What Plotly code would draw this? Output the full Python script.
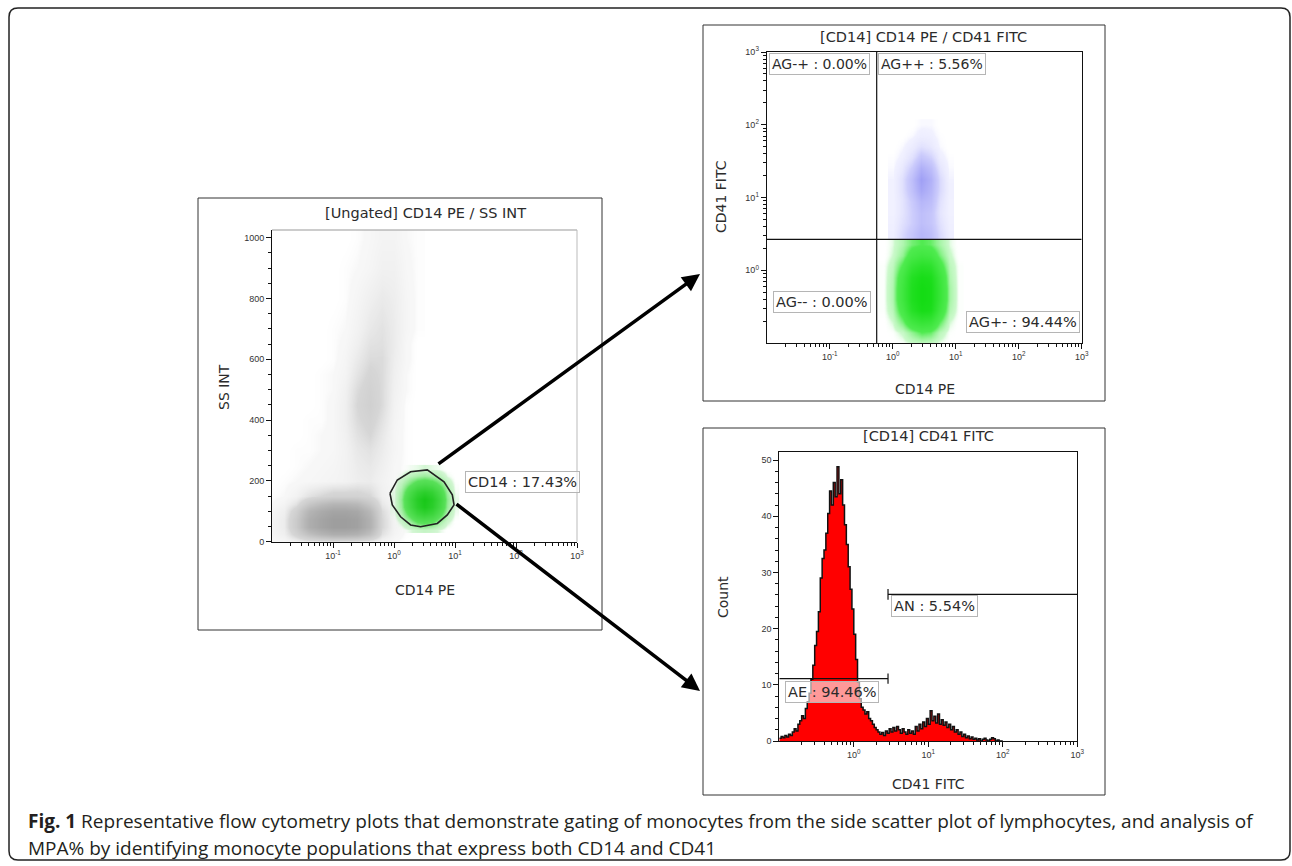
import numpy as np
import plotly.graph_objects as go

W, H = 1292, 866

# ---------------- Panel A: [Ungated] CD14 PE / SS INT ----------------
A_GRAY_LOGX = [-2.0, -1.8, -1.6, -1.4, -1.2, -1.0, -0.8, -0.6, -0.4, -0.2, 0.0, 0.2, 0.4]
A_GRAY_SS = [0, 25, 50, 75, 100, 125, 150, 200, 250, 300, 350, 400, 450, 500, 550,
             600, 650, 700, 800, 900, 1000]
A_GRAY_DENSITY = [
    [0.2, 0.3, 0.6, 0.9, 1.2, 1.3, 1.3, 1.2, 0.8, 0.4, 0.2, 0.0, 0.0],
    [0.4, 0.8, 2.5, 5.0, 6.5, 7.5, 7.5, 7.0, 5.0, 1.5, 0.5, 0.1, 0.0],
    [0.5, 1.0, 3.5, 7.5, 9.0, 10., 10., 9.5, 7.0, 2.0, 0.6, 0.2, 0.0],
    [0.5, 1.0, 3.5, 7.5, 9.0, 10., 10., 9.5, 7.0, 2.0, 0.6, 0.2, 0.0],
    [0.4, 0.8, 2.8, 6.5, 8.0, 9.0, 9.0, 8.5, 6.0, 1.8, 0.5, 0.2, 0.0],
    [0.2, 0.5, 1.5, 4.0, 5.5, 6.5, 6.5, 6.0, 4.0, 1.2, 0.4, 0.1, 0.0],
    [0.1, 0.2, 0.6, 1.5, 2.0, 2.5, 2.5, 2.5, 2.0, 0.8, 0.3, 0.1, 0.0],
    [0.0, 0.1, 0.2, 0.3, 0.4, 0.5, 0.6, 0.9, 1.0, 0.6, 0.3, 0.1, 0.0],
    [0.0, 0.0, 0.1, 0.2, 0.3, 0.4, 0.6, 1.0, 1.2, 0.8, 0.3, 0.1, 0.0],
    [0.0, 0.0, 0.1, 0.1, 0.2, 0.3, 0.6, 1.2, 1.5, 1.0, 0.4, 0.1, 0.0],
    [0.0, 0.0, 0.0, 0.1, 0.2, 0.3, 0.7, 1.5, 2.0, 1.2, 0.4, 0.1, 0.0],
    [0.0, 0.0, 0.0, 0.1, 0.1, 0.3, 0.8, 1.8, 2.4, 1.5, 0.5, 0.1, 0.0],
    [0.0, 0.0, 0.0, 0.0, 0.1, 0.3, 0.8, 2.0, 2.8, 1.8, 0.6, 0.1, 0.0],
    [0.0, 0.0, 0.0, 0.0, 0.1, 0.2, 0.7, 1.8, 2.6, 1.8, 0.7, 0.2, 0.0],
    [0.0, 0.0, 0.0, 0.0, 0.1, 0.2, 0.5, 1.4, 2.2, 1.8, 0.8, 0.2, 0.0],
    [0.0, 0.0, 0.0, 0.0, 0.0, 0.1, 0.4, 1.1, 1.8, 1.8, 0.9, 0.3, 0.0],
    [0.0, 0.0, 0.0, 0.0, 0.0, 0.1, 0.3, 0.8, 1.5, 1.6, 1.0, 0.3, 0.0],
    [0.0, 0.0, 0.0, 0.0, 0.0, 0.1, 0.2, 0.6, 1.2, 1.5, 1.0, 0.4, 0.1],
    [0.0, 0.0, 0.0, 0.0, 0.0, 0.0, 0.1, 0.4, 0.8, 1.1, 0.9, 0.4, 0.1],
    [0.0, 0.0, 0.0, 0.0, 0.0, 0.0, 0.1, 0.2, 0.4, 0.7, 0.7, 0.3, 0.1],
    [0.0, 0.0, 0.0, 0.0, 0.0, 0.0, 0.0, 0.1, 0.3, 0.5, 0.5, 0.2, 0.1],
]
A_GREEN_LOGX = [0.0, 0.125, 0.25, 0.375, 0.5, 0.625, 0.75, 0.875, 1.0]
A_GREEN_SS = [40, 65, 90, 115, 140, 165, 190, 215, 240]
A_GREEN_DENSITY = [
    [0.0, 0.0, 0.3, 0.6, 0.8, 0.6, 0.3, 0.0, 0.0],
    [0.0, 0.5, 1.5, 3.0, 3.5, 3.0, 1.5, 0.5, 0.0],
    [0.2, 1.2, 3.5, 6.0, 7.0, 6.0, 3.5, 1.2, 0.2],
    [0.3, 1.8, 5.0, 8.0, 9.5, 8.0, 5.0, 1.8, 0.3],
    [0.3, 2.0, 5.5, 8.5, 10., 8.5, 5.5, 2.0, 0.3],
    [0.3, 1.6, 4.5, 7.0, 8.0, 7.0, 4.5, 1.6, 0.2],
    [0.1, 1.0, 2.5, 4.0, 4.5, 4.0, 2.5, 1.0, 0.1],
    [0.0, 0.3, 1.0, 1.5, 1.8, 1.5, 1.0, 0.3, 0.0],
    [0.0, 0.0, 0.2, 0.3, 0.4, 0.3, 0.2, 0.0, 0.0],
]
A_GATE_LOGX = [-0.066, 0.054, 0.272, 0.546, 0.820, 0.956, 0.984, 0.874, 0.710, 0.436, 0.272, 0.108, -0.028, -0.066]
A_GATE_SS = [159, 203, 230, 236, 197, 154, 121, 88, 60, 49, 55, 82, 121, 159]
A_GATE_LABEL = "CD14 : 17.43%"

# ---------------- Panel B: [CD14] CD14 PE / CD41 FITC ----------------
B_GREEN_LOGX = [-0.15, 0.0, 0.15, 0.3, 0.45, 0.6, 0.75, 0.9, 1.05]
B_GREEN_LOGY = [-1.0, -0.85, -0.7, -0.55, -0.4, -0.25, -0.1, 0.05, 0.2, 0.35]
B_GREEN_DENSITY = [
    [0.0, 0.0, 0.1, 0.4, 0.6, 0.5, 0.2, 0.0, 0.0],
    [0.0, 0.1, 0.5, 1.5, 2.5, 2.2, 0.8, 0.1, 0.0],
    [0.0, 0.4, 2.0, 4.5, 6.0, 5.5, 2.5, 0.4, 0.0],
    [0.1, 0.8, 3.5, 7.5, 9.5, 9.0, 4.5, 0.9, 0.1],
    [0.1, 1.0, 4.5, 8.5, 10., 9.5, 5.5, 1.2, 0.1],
    [0.1, 1.0, 4.5, 8.5, 10., 9.5, 5.5, 1.2, 0.1],
    [0.1, 0.9, 4.0, 8.0, 9.5, 9.0, 5.0, 1.0, 0.1],
    [0.1, 0.7, 2.8, 6.0, 7.5, 7.0, 3.5, 0.8, 0.1],
    [0.0, 0.4, 1.5, 3.5, 4.5, 4.0, 2.0, 0.5, 0.0],
    [0.0, 0.3, 1.0, 2.0, 2.5, 2.2, 1.2, 0.3, 0.0],
]
B_BLUE_LOGX = [0.0, 0.15, 0.3, 0.45, 0.6, 0.75, 0.9]
B_BLUE_LOGY = [0.5, 0.65, 0.8, 0.95, 1.1, 1.25, 1.4, 1.55, 1.7, 1.85, 2.0]
B_BLUE_DENSITY = [
    [0.5, 1.5, 2.5, 3.5, 3.0, 1.5, 0.5],
    [0.4, 1.2, 2.0, 3.0, 2.5, 1.2, 0.4],
    [0.3, 1.0, 2.0, 3.0, 2.5, 1.0, 0.3],
    [0.3, 1.0, 2.2, 3.5, 3.0, 1.2, 0.3],
    [0.3, 1.2, 2.8, 4.5, 3.5, 1.5, 0.4],
    [0.3, 1.2, 3.0, 5.0, 3.8, 1.5, 0.3],
    [0.2, 0.8, 2.2, 4.0, 3.0, 1.0, 0.2],
    [0.1, 0.4, 1.2, 2.5, 1.8, 0.5, 0.1],
    [0.0, 0.2, 0.6, 1.2, 0.8, 0.2, 0.0],
    [0.0, 0.0, 0.2, 0.5, 0.4, 0.1, 0.0],
    [0.0, 0.0, 0.0, 0.2, 0.2, 0.0, 0.0],
]
B_QUAD_CD14 = 0.557     # vertical quadrant divider (CD14 PE value)
B_QUAD_CD41 = 2.66      # horizontal quadrant divider (CD41 FITC value)
B_QUAD_LABELS = ["AG-+ : 0.00%", "AG++ : 5.56%", "AG-- : 0.00%", "AG+- : 94.44%"]

# ---------------- Panel C: [CD14] CD41 FITC histogram ----------------
C_BIN_START_LOG = -1.0
C_BIN_WIDTH_LOG = 0.025
C_COUNTS = [
    0.5, 0.8, 0.6, 1.0, 0.7, 1.2, 1.0, 1.6, 2.2, 1.8,
    3.0, 3.6, 4.5, 4.0, 5.8, 7.0, 8.5, 11.0, 13.5, 17.0,
    19.5, 23.0, 29.0, 32.5, 34.0, 37.0, 40.5, 44.5, 42.0, 46.0,
    43.5, 48.8, 44.0, 46.5, 42.0, 38.5, 35.0, 31.0, 27.0, 23.5,
    19.0, 14.5, 10.5, 7.5, 6.0, 5.5, 4.8, 5.2, 4.0, 3.6,
    3.0, 2.4, 2.0, 1.6, 1.2, 1.5, 1.0, 1.8, 1.4, 2.2,
    1.6, 2.4, 1.8, 2.6, 2.0, 1.4, 2.2, 1.6, 1.2, 2.0,
    1.4, 1.8, 1.2, 2.6, 1.8, 3.0, 2.2, 3.4, 2.6, 4.0,
    3.0, 5.4, 3.6, 4.4, 3.2, 4.8, 3.0, 3.8, 2.8, 3.4,
    2.4, 3.0, 2.0, 2.6, 1.6, 2.0, 1.2, 1.6, 0.8, 1.2,
    0.6, 0.9, 0.4, 0.7, 0.3, 0.5, 0.2, 0.4, 0.0, 0.3,
    0.5, 0.2, 0.0, 0.3, 0.6, 0.4, 0.0, 0.2, 0.0, 0.0,
]
C_GATE_SPLIT = 2.88     # CD41 FITC value where AE ends / AN begins
C_AE_LEVEL = 11.1
C_AN_LEVEL = 26.1
C_AE_LABEL = "AE : 94.46%"
C_AN_LABEL = "AN : 5.54%"

CAPTION_1 = ("<b>Fig. 1</b> Representative flow cytometry plots that demonstrate gating of monocytes "
             "from the side scatter plot of lymphocytes, and analysis of")
CAPTION_2 = "MPA% by identifying monocyte populations that express both CD14 and CD41"


# ---------------- helpers ----------------
def px(x):
    return x / W


def py(y):
    return 1 - y / H


SUP = {-2: "10<sup>-2</sup>", -1: "10<sup>-1</sup>", 0: "10<sup>0</sup>", 1: "10<sup>1</sup>",
       2: "10<sup>2</sup>", 3: "10<sup>3</sup>"}


def log_minor(lo, hi):
    return [d + np.log10(k) for d in range(lo, hi) for k in range(2, 10)]


TICKFONT = dict(family="Liberation Sans", size=9, color="#333")
TXT = "#2b2b2b"
FONT = "DejaVu Sans"

fig = go.Figure()

# Panel A traces
fig.add_trace(go.Heatmap(
    x=A_GRAY_LOGX, y=A_GRAY_SS, z=A_GRAY_DENSITY, zsmooth="best", zmin=0, zmax=10,
    colorscale=[[0, "rgba(255,255,255,0)"], [0.02, "rgba(240,240,240,0.5)"],
                [0.2, "rgb(214,214,214)"], [0.6, "rgb(184,184,184)"], [1, "rgb(158,158,158)"]],
    showscale=False, hoverinfo="skip", xaxis="x", yaxis="y"))
fig.add_trace(go.Heatmap(
    x=A_GREEN_LOGX, y=A_GREEN_SS, z=A_GREEN_DENSITY, zsmooth="best", zmin=0, zmax=10,
    colorscale=[[0, "rgba(255,255,255,0)"], [0.04, "rgba(180,240,180,0.6)"],
                [0.3, "rgb(90,225,90)"], [1, "rgb(25,200,25)"]],
    showscale=False, hoverinfo="skip", xaxis="x", yaxis="y"))
fig.add_trace(go.Scatter(
    x=A_GATE_LOGX, y=A_GATE_SS, mode="lines", line=dict(color="#222", width=1.6),
    hoverinfo="skip", showlegend=False, xaxis="x", yaxis="y"))

# Panel B traces
fig.add_trace(go.Heatmap(
    x=B_GREEN_LOGX, y=B_GREEN_LOGY, z=B_GREEN_DENSITY, zsmooth="best", zmin=0, zmax=10,
    colorscale=[[0, "rgba(255,255,255,0)"], [0.04, "rgba(170,245,170,0.6)"],
                [0.25, "rgb(80,235,80)"], [1, "rgb(20,220,20)"]],
    showscale=False, hoverinfo="skip", xaxis="x2", yaxis="y2"))
fig.add_trace(go.Heatmap(
    x=B_BLUE_LOGX, y=B_BLUE_LOGY, z=B_BLUE_DENSITY, zsmooth="best", zmin=0, zmax=5,
    colorscale=[[0, "rgba(255,255,255,0)"], [0.06, "rgba(232,232,255,0.6)"],
                [0.4, "rgb(205,205,252)"], [1, "rgb(160,160,245)"]],
    showscale=False, hoverinfo="skip", xaxis="x2", yaxis="y2"))

# Panel C trace (histogram drawn as step area)
c_edges = [C_BIN_START_LOG + i * C_BIN_WIDTH_LOG for i in range(len(C_COUNTS) + 1)]
fig.add_trace(go.Scatter(
    x=c_edges, y=C_COUNTS + [0], mode="lines",
    line=dict(color="#111", width=1.5, shape="hv"),
    fill="tozeroy", fillcolor="#ff0000", hoverinfo="skip", showlegend=False,
    xaxis="x3", yaxis="y3"))


def axis(domain, rng, anchor, **kw):
    d = dict(domain=domain, range=rng, anchor=anchor, showline=True, linecolor="#111",
             linewidth=1, ticks="outside", ticklen=5, tickcolor="#111", tickwidth=1,
             showgrid=False, zeroline=False, tickfont=TICKFONT, fixedrange=True, automargin=False)
    d.update(kw)
    return d


fig.update_layout(
    width=W, height=H, margin=dict(l=0, r=0, t=0, b=0, pad=0, autoexpand=False),
    paper_bgcolor="white", plot_bgcolor="rgba(0,0,0,0)", showlegend=False,
    xaxis=axis([px(272), px(577)], [-2.0, 3.0], "y", mirror=False,
               tickmode="array", tickvals=[-1, 0, 1, 2, 3], ticktext=[SUP[k] for k in [-1, 0, 1, 2, 3]],
               minor=dict(tickmode="array", tickvals=log_minor(-2, 3), ticks="outside", ticklen=3,
                          tickcolor="#111", showgrid=False)),
    yaxis=axis([py(541.7), py(230)], [0, 1025], "x", mirror=False,
               tickmode="array", tickvals=[0, 200, 400, 600, 800, 1000],
               minor=dict(dtick=50, ticks="outside", ticklen=3, tickcolor="#111", showgrid=False)),
    xaxis2=axis([px(766.7), px(1081.7)], [-2.0, 3.0], "y2", mirror=True,
                tickmode="array", tickvals=[-1, 0, 1, 2, 3], ticktext=[SUP[k] for k in [-1, 0, 1, 2, 3]],
                minor=dict(tickmode="array", tickvals=log_minor(-2, 3), ticks="outside", ticklen=3,
                           tickcolor="#111", showgrid=False)),
    yaxis2=axis([py(343), py(52)], [-1.0, 3.0], "x2", mirror=True,
                tickmode="array", tickvals=[0, 1, 2, 3], ticktext=[SUP[k] for k in [0, 1, 2, 3]],
                minor=dict(tickmode="array", tickvals=log_minor(-1, 3), ticks="outside", ticklen=3,
                           tickcolor="#111", showgrid=False)),
    xaxis3=axis([px(779.3), px(1077.3)], [-1.0, 3.0], "y3", mirror=True,
                tickmode="array", tickvals=[0, 1, 2, 3], ticktext=[SUP[k] for k in [0, 1, 2, 3]],
                minor=dict(tickmode="array", tickvals=log_minor(-1, 3), ticks="outside", ticklen=3,
                           tickcolor="#111", showgrid=False)),
    yaxis3=axis([py(741), py(451.7)], [0, 51.5], "x3", mirror=True,
                tickmode="array", tickvals=[0, 10, 20, 30, 40, 50],
                minor=dict(dtick=2, ticks="outside", ticklen=3, tickcolor="#111", showgrid=False)),
)

shapes = []


def prect(x0, y0, x1, y1, color="#333", width=1):
    shapes.append(dict(type="rect", xref="paper", yref="paper", x0=px(x0), y0=py(y1),
                       x1=px(x1), y1=py(y0), line=dict(color=color, width=width)))


# outer rounded frame
def rounded_path(x0, y0, x1, y1, r):
    P = lambda x, y: f"{px(x):.5f},{py(y):.5f}"
    return (f"M {P(x0 + r, y0)} L {P(x1 - r, y0)} Q {P(x1, y0)} {P(x1, y0 + r)} "
            f"L {P(x1, y1 - r)} Q {P(x1, y1)} {P(x1 - r, y1)} L {P(x0 + r, y1)} "
            f"Q {P(x0, y1)} {P(x0, y1 - r)} L {P(x0, y0 + r)} Q {P(x0, y0)} {P(x0 + r, y0)} Z")


shapes.append(dict(type="path", xref="paper", yref="paper", path=rounded_path(9, 8, 1290, 860, 9),
                   line=dict(color="#222", width=1.5)))
# panel boxes
prect(198, 198, 602, 630)
prect(703, 25, 1105, 401)
prect(703, 428, 1105, 795)
# panel A light top/right frame
shapes.append(dict(type="line", xref="paper", yref="paper", x0=px(272), x1=px(577), y0=py(230), y1=py(230),
                   line=dict(color="#999", width=1)))
shapes.append(dict(type="line", xref="paper", yref="paper", x0=px(577), x1=px(577), y0=py(230), y1=py(541.7),
                   line=dict(color="#bbb", width=1)))

# quadrant dividers panel B
qx, qy = np.log10(B_QUAD_CD14), np.log10(B_QUAD_CD41)
shapes.append(dict(type="line", xref="x2", yref="y2", x0=qx, x1=qx, y0=-1, y1=3, line=dict(color="#111", width=1.2)))
shapes.append(dict(type="line", xref="x2", yref="y2", x0=-2, x1=3, y0=qy, y1=qy, line=dict(color="#111", width=1.2)))

# histogram gates panel C
gx = np.log10(C_GATE_SPLIT)
shapes.append(dict(type="line", xref="x3", yref="y3", x0=-1, x1=gx, y0=C_AE_LEVEL, y1=C_AE_LEVEL,
                   line=dict(color="#111", width=1.2)))
shapes.append(dict(type="line", xref="x3", yref="y3", x0=gx, x1=gx, y0=C_AE_LEVEL - 0.9, y1=C_AE_LEVEL + 0.9,
                   line=dict(color="#111", width=1.2)))
shapes.append(dict(type="line", xref="x3", yref="y3", x0=gx, x1=3, y0=C_AN_LEVEL, y1=C_AN_LEVEL,
                   line=dict(color="#111", width=1.2)))
shapes.append(dict(type="line", xref="x3", yref="y3", x0=gx, x1=gx, y0=C_AN_LEVEL - 0.95, y1=C_AN_LEVEL + 0.95,
                   line=dict(color="#111", width=1.2)))

fig.update_layout(shapes=shapes)

ann = []


def text(x, y, s, size=14.5, angle=0, **kw):
    d = dict(xref="paper", yref="paper", x=px(x), y=py(y), text=s, showarrow=False,
             font=dict(family=FONT, size=size, color=TXT), textangle=angle,
             xanchor="center", yanchor="middle")
    d.update(kw)
    ann.append(d)


def label(x, y, s, size=14.5):
    text(x, y, s, size=size, bgcolor="rgba(255,255,255,0.6)", bordercolor="#b5b5b5",
         borderwidth=1, borderpad=2)


# titles
text(425, 213, "[Ungated] CD14 PE / SS INT")
text(923, 37, "[CD14] CD14 PE / CD41 FITC")
text(928, 436, "[CD14] CD41 FITC")
# axis titles
text(425, 590, "CD14 PE", size=14)
text(224, 387, "SS INT", size=14, angle=-90)
text(925, 389, "CD14 PE", size=14)
text(721, 197, "CD41 FITC", size=14, angle=-90)
text(928, 784, "CD41 FITC", size=14)
text(723, 597, "Count", size=14, angle=-90)

# gate labels
label(522, 482, A_GATE_LABEL)
label(819, 64, B_QUAD_LABELS[0], size=14)
label(932, 64, B_QUAD_LABELS[1], size=14)
label(822, 302, B_QUAD_LABELS[2])
label(1023, 322, B_QUAD_LABELS[3])
label(832, 692, C_AE_LABEL)
label(934, 606, C_AN_LABEL)

# arrows
for tip, tail in [((700, 274), (437, 465)), ((700, 691), (455, 503))]:
    ann.append(dict(xref="paper", yref="paper", x=px(tip[0]), y=py(tip[1]), text="",
                    showarrow=True, ax=tail[0] - tip[0], ay=tail[1] - tip[1],
                    arrowhead=2, arrowsize=1.0, arrowwidth=3.5, arrowcolor="#000", standoff=0))

# caption
ann.append(dict(xref="paper", yref="paper", x=px(26), y=py(821), text=CAPTION_1, showarrow=False,
                xanchor="left", yanchor="middle", font=dict(family="Open Sans", size=19, color="#231f20")))
ann.append(dict(xref="paper", yref="paper", x=px(26), y=py(848), text=CAPTION_2, showarrow=False,
                xanchor="left", yanchor="middle", font=dict(family="Open Sans", size=19, color="#231f20")))

fig.update_layout(annotations=ann)
fig.write_html("out.html", config={"displayModeBar": False},
               post_script="document.body.style.margin='0';document.body.style.overflow='hidden';")
